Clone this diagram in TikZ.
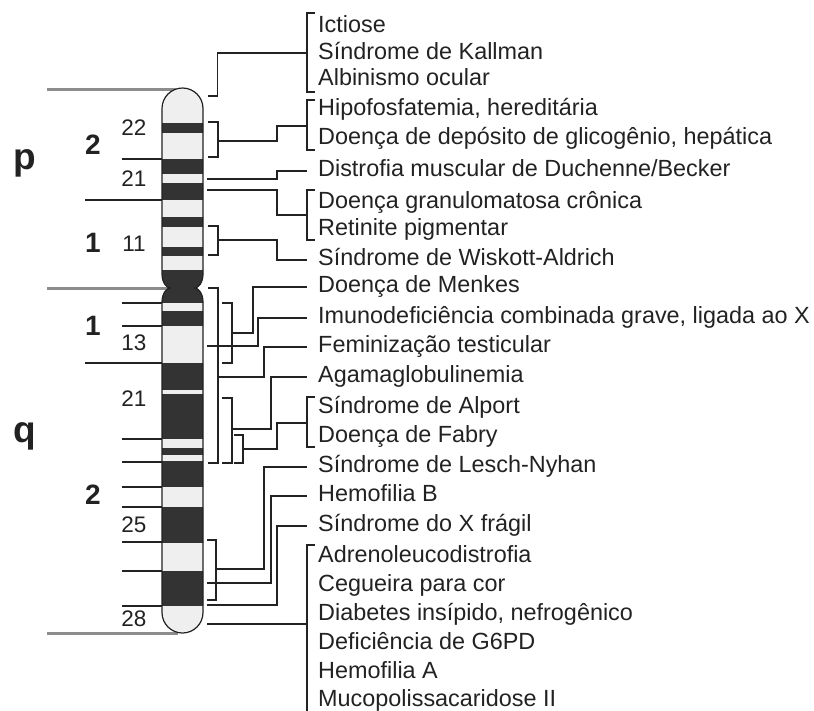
\documentclass[tikz,border=0pt]{standalone}
\usepackage{fontspec}
\setmainfont{Liberation Sans}
\usetikzlibrary{calc}
\definecolor{BandDark}{HTML}{333333}
\definecolor{BandLight}{HTML}{EFEFEF}
\definecolor{RuleGray}{HTML}{8C8C8C}
\definecolor{Ink}{HTML}{222222}

% outline of the chromosome, both arms and the centromere waist
\def\chrompath{(162,274) -- (162,108.5) arc[start angle=180,end angle=360,radius=20.5]
  -- (203,274) .. controls (203,283) and (198,288) .. (195,288)
  .. controls (198,288) and (203,293) .. (203,302) -- (203,612.5)
  arc[start angle=0,end angle=180,radius=20.5] -- (162,302)
  .. controls (162,293) and (167,288) .. (170,288)
  .. controls (167,288) and (162,283) .. (162,274) -- cycle}

\begin{document}
\begin{tikzpicture}[x=1pt,y=-1pt,
  link/.style={draw=Ink,line width=1.2pt},
  tick/.style={draw=Ink,line width=1.1pt},
  disease/.style={anchor=west,inner xsep=11pt,inner ysep=0pt,text height=16.6pt,text depth=4.9pt,
    text=Ink,font=\fontsize{23.4}{28}\selectfont},
  bandno/.style={text=Ink,font=\fontsize{22.5}{24}\selectfont},
  region/.style={text=Ink,font=\bfseries\fontsize{28}{30}\selectfont},
  arm/.style={text=Ink,font=\bfseries\fontsize{37}{38}\selectfont}]
  \useasboundingbox (0,0) rectangle (814,710);

  % arm boundaries
  \draw[RuleGray,line width=3pt] (47,89) -- (176,89);
  \draw[RuleGray,line width=3pt] (47,288) -- (176,288);
  \draw[RuleGray,line width=3pt] (47,633) -- (178,633);

  % band division marks
  \foreach \y in {159,303,326,439,462,487,507,542,571,606}
    \draw[tick] (122,\y) -- (162,\y);
  \foreach \y in {200,363}
    \draw[tick] (85,\y) -- (162,\y);

  % chromosome with its bands
  \fill[BandLight] \chrompath;
  \begin{scope}
    \clip \chrompath;
    \foreach \a/\b in {122.7/133.3,159/174,182.7/200,217.3/226.7,246.7/256,270/303,
                       311/326,363/390,394/439.3,448.3/455,461/487.3,507.3/542.7,570.7/605.7}
      \fill[BandDark] (150,\a) rectangle (215,\b);
  \end{scope}
  \draw[Ink,line width=1.2pt] \chrompath;

  % arm, region and band labels
  \node[arm] (armp) at (25,163) {p};
  \node[arm] (armq) at (25,436) {q};
  \node[region] (rp2) at (93,145) {2};
  \node[region] (rp1) at (93,243) {1};
  \node[region] (rq1) at (93,326) {1};
  \node[region] (rq2) at (93,495) {2};
  \node[bandno] (p22) at (134,128) {22};
  \node[bandno] (p21) at (134,179) {21};
  \node[bandno] (p11) at (134,244) {11};
  \node[bandno] (q13) at (134,343) {13};
  \node[bandno] (q21) at (134,399) {21};
  \node[bandno] (q25) at (134,525) {25};
  \node[bandno] (q28) at (134,619) {28};

  % disorders
  \node[disease] (ict)  at (307,27)  {Ictiose};
  \node[disease] (kal)  at (307,54)  {Síndrome de Kallman};
  \node[disease] (alb)  at (307,80)  {Albinismo ocular};
  \node[disease] (hip)  at (307,110) {Hipofosfatemia, hereditária};
  \node[disease] (gli)  at (307,139) {Doença de depósito de glicogênio, hepática};
  \node[disease] (dmd)  at (307,171) {Distrofia muscular de Duchenne/Becker};
  \node[disease] (dgc)  at (307,203) {Doença granulomatosa crônica};
  \node[disease] (ret)  at (307,230) {Retinite pigmentar};
  \node[disease] (was)  at (307,260) {Síndrome de Wiskott-Aldrich};
  \node[disease] (men)  at (307,287) {Doença de Menkes};
  \node[disease] (scid) at (307,318) {Imunodeficiência combinada grave, ligada ao X};
  \node[disease] (fem)  at (307,347) {Feminização testicular};
  \node[disease] (aga)  at (307,377) {Agamaglobulinemia};
  \node[disease] (alp)  at (307,408) {Síndrome de Alport};
  \node[disease] (fab)  at (307,437) {Doença de Fabry};
  \node[disease] (les)  at (307,467) {Síndrome de Lesch-Nyhan};
  \node[disease] (hemb) at (307,496) {Hemofilia B};
  \node[disease] (fra)  at (307,526) {Síndrome do X frágil};
  \node[disease] (ald)  at (307,557) {Adrenoleucodistrofia};
  \node[disease] (ceg)  at (307,586) {Cegueira para cor};
  \node[disease] (dia)  at (307,615) {Diabetes insípido, nefrogênico};
  \node[disease] (g6pd) at (307,644) {Deficiência de G6PD};
  \node[disease] (hema) at (307,673) {Hemofilia A};
  \node[disease] (mps)  at (307,701) {Mucopolissacaridose II};

  % brackets on the text side
  \draw[tick] (315,13) -| (307,92) -- (315,92);
  \draw[tick] (315,100) -| (307,150) -- (315,150);
  \draw[tick] (315,190) -| (307,240) -- (315,240);
  \draw[tick] (315,397) -| (307,447) -- (315,447);
  \draw[tick] (315,545) -| (307,720);
  \coordinate (gIct) at (307,53);
  \coordinate (gHip) at (307,126);
  \coordinate (gDgc) at (307,215);
  \coordinate (gAlp) at (307,423);
  \coordinate (gAld) at (307,624);

  % brackets on the chromosome side
  \draw[tick] (208,122) -| (218,157) -- (208,157);
  \draw[tick] (208,226) -| (218,255) -- (208,255);
  \draw[tick] (208,288) -| (218,463) -- (208,463);
  \draw[tick] (222,303) -| (232,363) -- (222,363);
  \draw[tick] (222,398) -| (232,463) -- (222,463);
  \draw[tick] (234,435) -| (243,463) -- (234,463);
  \draw[tick] (207,540) -| (216,600) -- (207,600);
  \coordinate (sIct) at (208,96);
  \coordinate (sHip) at (218,141);
  \coordinate (sDmd) at (207,179);
  \coordinate (sDgc) at (207,190);
  \coordinate (sWas) at (218,240);
  \coordinate (sMen) at (232,333);
  \coordinate (sScid) at (207,346);
  \coordinate (sFem) at (218,377);
  \coordinate (sAga) at (232,429);
  \coordinate (sAlp) at (243,449);
  \coordinate (sLes) at (216,569);
  \coordinate (sHemb) at (207,583);
  \coordinate (sFra) at (207,605);
  \coordinate (sAld) at (207,624);

  % connectors
  \draw[link] (sIct) -- ++(9.5,0) |- (gIct);
  \draw[link] (sHip) -- ++(59,0) |- (gHip);
  \draw[link] (sDmd) -- ++(70,0) |- (dmd.west);
  \draw[link] (sDgc) -- ++(70,0) |- (gDgc);
  \draw[link] (sWas) -- ++(59,0) |- (was.west);
  \draw[link] (sMen) -- ++(21,0) |- (men.west);
  \draw[link] (sScid) -- ++(51,0) |- (scid.west);
  \draw[link] (sFem) -- ++(46,0) |- (fem.west);
  \draw[link] (sAga) -- ++(39,0) |- (aga.west);
  \draw[link] (sAlp) -- ++(34,0) |- (gAlp);
  \draw[link] (sLes) -- ++(48,0) |- (les.west);
  \draw[link] (sHemb) -- ++(64,0) |- (hemb.west);
  \draw[link] (sFra) -- ++(70,0) |- (fra.west);
  \draw[link] (sAld) -- (gAld);
\end{tikzpicture}
\end{document}
